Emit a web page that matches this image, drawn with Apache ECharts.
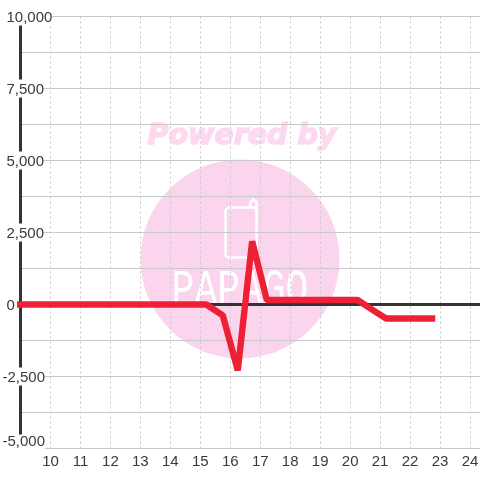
<!DOCTYPE html>
<html>
<head>
<meta charset="utf-8">
<style>html,body{margin:0;padding:0;background:#fff}#main{width:480px;height:480px}</style>
<script src="https://cdn.jsdelivr.net/npm/echarts@6/dist/echarts.min.js"></script>
</head>
<body>
<div id="main"></div>
<script>
// values
var xValues = [8.88, 15.2, 15.75, 16.25, 16.73, 17.22, 20.25, 20.72, 21.2, 22.84];
var yValues = [0, 0, -380, -2290, 2195, 156, 156, -170, -486, -486];
var xTicks = [10, 11, 12, 13, 14, 15, 16, 17, 18, 19, 20, 21, 22, 23, 24];
var yTicks = [-5000, -2500, 0, 2500, 5000, 7500, 10000];

var points = xValues.map(function (x, i) { return [x, yValues[i]]; });

var myChart = echarts.init(document.getElementById('main'), null, { renderer: 'canvas' });

var option = {
    animation: false,
    backgroundColor: '#fff',
    textStyle: { fontFamily: 'Liberation Sans' },
    grid: { left: 20.5, right: 0, top: 16.5, bottom: 31.5, outerBoundsMode: 'none' },
    // watermark behind the grid
    graphic: [
        { type: 'circle', z: -10, shape: { cx: 240, cy: 259, r: 99.5 }, style: { fill: '#fbd5ee' } },
        { type: 'text', z: -10, x: 242, y: 137, style: {
            text: 'Powered by', fill: '#fcd9ef', stroke: '#fcd9ef', lineWidth: 1.5, align: 'center', verticalAlign: 'middle',
            font: 'italic bold 28.5px "DejaVu Sans"' } },
        { type: 'rect', z: -9, shape: { x: 225.5, y: 207.5, width: 31, height: 50, r: 4 }, style: { fill: 'none', stroke: '#fff', lineWidth: 2.5 } },
        { type: 'polyline', z: -9, shape: { points: [[250.5, 207], [250.5, 202], [253.5, 199.5], [256.5, 202], [256.5, 212]] },
            style: { fill: 'none', stroke: '#fff', lineWidth: 2.5 } },
        { type: 'text', z: -9, x: 240, y: 291, scaleY: 1.3, style: {
            text: 'PAPAGO', fill: '#fff', align: 'center', verticalAlign: 'middle',
            font: '38px "Liberation Mono"' } }
    ],
    xAxis: {
        type: 'value',
        min: 9,
        max: 24.333,
        interval: 1,
        axisLine: { show: false },
        axisTick: { show: false },
        axisLabel: {
            margin: 6,
            fontSize: 15,
            color: '#3a3a3a',
            hideOverlap: false,
            showMinLabel: true,
            showMaxLabel: true,
            customValues: xTicks
        },
        splitLine: { show: true, lineStyle: { color: '#c8c8c8', type: [2, 3], width: 1 } }
    },
    yAxis: {
        type: 'value',
        min: -5000,
        max: 10000,
        interval: 1250,
        axisLine: { show: true, onZero: false, lineStyle: { color: '#333', width: 3 } },
        axisTick: { show: false },
        axisLabel: {
            align: 'left',
            margin: 18,
            fontSize: 15,
            color: '#3a3a3a',
            formatter: function (v) {
                if (yTicks.indexOf(v) < 0) return '';
                var s = echarts.format.addCommas(v);
                if (v === -5000) return '{c|' + s + '}';
                return v < 0 ? '{b|' + s + '}' : '{a|' + s + '}';
            },
            // plain labels sit a little under their gridline, the lowest one is pushed up
            rich: {
                a: { fontSize: 15, lineHeight: 12, color: '#3a3a3a', padding: [3, 0, 0, 4], backgroundColor: '#fff' },
                b: { fontSize: 15, lineHeight: 12, color: '#3a3a3a', padding: [3, 0, 0, 0], backgroundColor: '#fff' },
                c: { fontSize: 15, lineHeight: 12, color: '#3a3a3a', padding: [0, 0, 13, 0], backgroundColor: '#fff' }
            }
        },
        splitLine: { show: true, lineStyle: { color: '#c8c8c8', width: 1 } }
    },
    series: [
        {
            type: 'line',
            data: [[9, 0], [24.333, 0]],
            silent: true,
            symbol: 'none',
            lineStyle: { color: '#333', width: 3 },
            z: 2
        },
        {
            name: 'series',
            type: 'line',
            data: points,
            symbol: 'none',
            clip: false,
            lineStyle: { color: '#ee2036', width: 6.4, cap: 'butt', join: 'bevel' },
            z: 3
        }
    ]
};

myChart.setOption(option);
</script>
</body>
</html>
